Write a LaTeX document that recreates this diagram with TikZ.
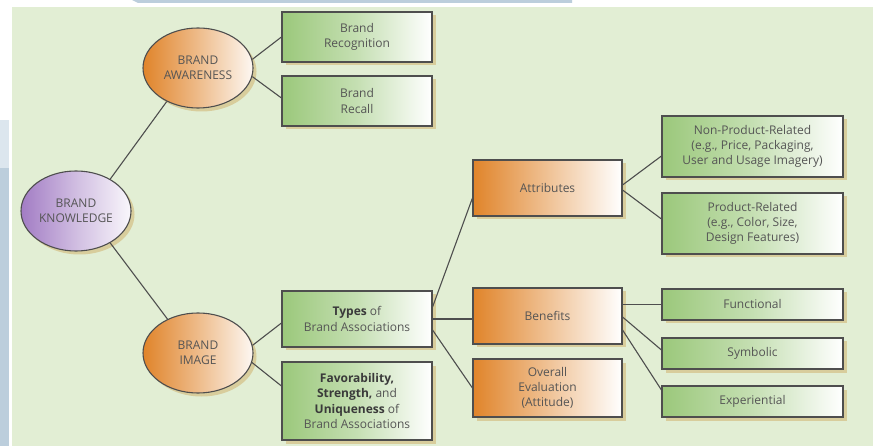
\documentclass[tikz,border=0pt]{standalone}
\usepackage{fontspec}
\setmainfont{Open Sans}
\usetikzlibrary{shapes.geometric,shadows}

\definecolor{panel}{HTML}{E2EED4}
\definecolor{pageblue}{HTML}{BCCEDC}
\definecolor{pagebluelight}{HTML}{DCE6EE}
\definecolor{grn}{HTML}{9BC87B}
\definecolor{org}{HTML}{E0842A}
\definecolor{prp}{HTML}{A27CC4}
\definecolor{tan}{HTML}{D8CD9C}
\definecolor{edge}{HTML}{4E4E4E}
\definecolor{txt}{HTML}{555555}
\definecolor{txtbold}{HTML}{3A3A3A}

\tikzset{
  label font/.style={font=\fontsize{12}{15.2}\selectfont, text=txt, align=center},
  tanshadow/.style={drop shadow={shadow xshift=3.5pt, shadow yshift=-3.5pt, fill=tan, opacity=1}},
  stepbox/.style={rectangle, draw=edge, line width=1.1pt, inner sep=2pt,
    minimum width=150pt, label font, tanshadow},
  greenbox/.style={stepbox, left color=grn, right color=white, middle color=grn!58!white},
  orangebox/.style={stepbox, left color=org, right color=white, middle color=org!50!white},
  oval/.style={ellipse, draw=edge, line width=1.1pt, inner sep=0pt,
    minimum width=110pt, minimum height=80pt, label font, tanshadow},
  orangeoval/.style={oval, left color=org, right color=org!6!white, middle color=org!55!white},
  purpleoval/.style={oval, left color=prp, right color=prp!6!white, middle color=prp!50!white},
  link/.style={draw=edge, line width=1.1pt},
}

\newcommand{\bw}[1]{{\bfseries\color{txtbold}#1}}

\begin{document}
\begin{tikzpicture}[x=1pt,y=-1pt]
\useasboundingbox (0,0) rectangle (873,446);
% page and panel
\fill[white] (0,0) rectangle (873,446);
\fill[pageblue] (132,0) -- (572,0) -- (572,3) -- (138,3) -- cycle;
\fill[pagebluelight] (0,120) rectangle (9,168);
\fill[pageblue] (0,168) rectangle (9,446);
\fill[panel] (12,7) rectangle (873,446);

% ovals
\node[purpleoval] (kn) at (76,211) {BRAND\\KNOWLEDGE};
\node[orangeoval] (aw) at (198,68) {BRAND\\AWARENESS};
\node[orangeoval] (img) at (198,353) {BRAND\\IMAGE};

% awareness branch
\node[greenbox, minimum height=50pt] (rec) at (357,37) {Brand\\Recognition};
\node[greenbox, minimum height=50pt] (rcl) at (357,101) {Brand\\Recall};

% image branch
\node[greenbox, minimum height=56pt] (types) at (357,319) {\bw{Types} of\\Brand Associations};
\node[greenbox, minimum height=78pt] (fav) at (357,401) {\bw{Favorability,}\\\bw{Strength,} and\\\bw{Uniqueness} of\\Brand Associations};

% association types
\node[orangebox, minimum width=149pt, minimum height=56pt] (attr) at (547.5,188) {Attributes};
\node[orangebox, minimum width=149pt, minimum height=56pt] (ben) at (547.5,316) {Benefits};
\node[orangebox, minimum width=149pt, minimum height=58pt] (ov) at (547.5,388) {Overall\\Evaluation\\(Attitude)};

% attribute kinds
\node[greenbox, minimum width=181pt, minimum height=61pt] (np) at (752.5,146.5) {Non-Product-Related\\(e.g., Price, Packaging,\\User and Usage Imagery)};
\node[greenbox, minimum width=181pt, minimum height=61pt] (pr) at (752.5,223.5) {Product-Related\\(e.g., Color, Size,\\Design Features)};

% benefit kinds
\node[greenbox, minimum width=181pt, minimum height=31pt] (fun) at (752.5,304.5) {Functional};
\node[greenbox, minimum width=181pt, minimum height=31pt] (sym) at (752.5,353.5) {Symbolic};
\node[greenbox, minimum width=181pt, minimum height=31pt] (exp) at (752.5,401.5) {Experiential};

% connectors
\draw[link] (kn.43) -- (aw.-133);
\draw[link] (kn.-43) -- (img.132);
\draw[link] (aw.9) -- (rec.west);
\draw[link] (aw.-9) -- ([yshift=3pt]rcl.west);
\draw[link] (img.8) -- ([yshift=-4pt]types.west);
\draw[link] (img.-10) -- ([yshift=15pt]fav.west);
\draw[link] ([yshift=12pt]types.east) -- ([yshift=-10pt]attr.west);
\draw[link] (types.east) -- (types.east -| ben.west);
\draw[link] ([yshift=-11pt]types.east) -- (ov.west);
\draw[link] ([yshift=3pt]attr.east) -- ([yshift=-9.5pt]np.west);
\draw[link] ([yshift=-2pt]attr.east) -- ([yshift=4.5pt]pr.west);
\draw[link] (fun.west -| ben.east) -- (fun.west);
\draw[link] ([yshift=-1pt]ben.east) -- ([yshift=3.5pt]sym.west);
\draw[link] ([yshift=-14pt]ben.east) -- ([yshift=11.5pt]exp.west);
\end{tikzpicture}
\end{document}
